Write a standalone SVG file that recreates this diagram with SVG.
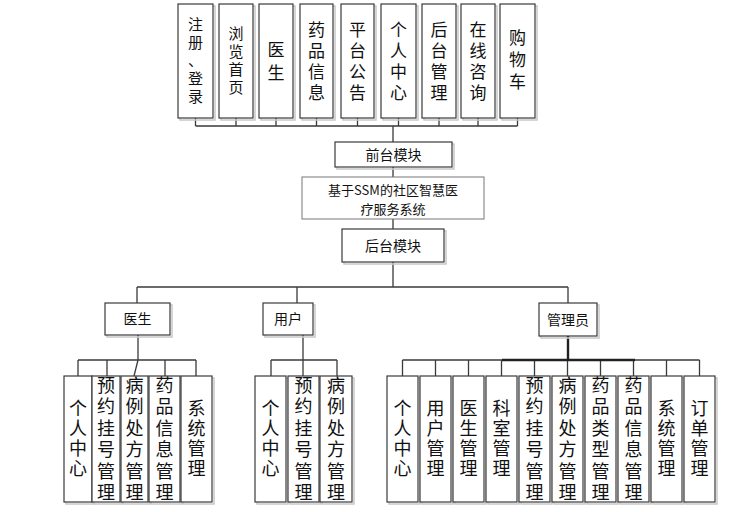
<svg xmlns="http://www.w3.org/2000/svg" width="751" height="512" viewBox="0 0 751 512">
<style>
.b{fill:#fff;stroke:#3a3a3a;stroke-width:1.2}
.s{fill:none;stroke:#c8c8c8;stroke-width:1.5}
.t{font-family:"Noto Sans CJK SC","Liberation Sans",sans-serif;fill:#111;text-anchor:middle}
.l{fill:none;stroke:#3a3a3a;stroke-width:1.3}
</style>
<rect width="751" height="512" fill="#fff"/>
<g id="connectors">
<path class="l" d="M195.5 118V126M236 118V126M276 118V126M316.5 118V126M357.5 118V126M398.5 118V126M439 118V126M478 118V126M517.5 118V126M195.5 126H517.5M393 126V142M393 167V177M393 219V229M393 262V287M137 287H568M137 287V303M297 287V303M568 287V303"/>
<path class="l" d="M138 335V360M78 360H196M78 360V376M107 360V376M138 360L134 376M165 360V376M196 360V376"/>
<path class="l" d="M303 335V360M271 360H337M271 360V376M303 360V376M337 360V376"/>
<path class="l" d="M402.5 360H699.5M402.5 360V376M435.5 360V376M468.5 360V376M501.5 360V376M534.5 360V376M567.5 360V376M600.5 360V376M633.5 360V376M666.5 360V376M699.5 360V376"/>
<path fill="none" stroke="#222" stroke-width="2.4" d="M568 336V360M502 360H635"/>
</g>
<g id="top1"><rect class="s" x="180" y="6" width="35" height="114"/><rect class="b" x="178" y="4" width="35" height="114"/><text class="t" font-size="15"><tspan x="195.5" y="30">注</tspan><tspan x="195.5" y="48">册</tspan><tspan x="195.5" y="66">、</tspan><tspan x="195.5" y="84">登</tspan><tspan x="195.5" y="102">录</tspan></text></g>
<g id="top2"><rect class="s" x="221" y="6" width="34" height="114"/><rect class="b" x="219" y="4" width="34" height="114"/><text class="t" font-size="15"><tspan x="236" y="39">浏</tspan><tspan x="236" y="57">览</tspan><tspan x="236" y="75">首</tspan><tspan x="236" y="93">页</tspan></text></g>
<g id="top3"><rect class="s" x="261" y="6" width="34" height="114"/><rect class="b" x="259" y="4" width="34" height="114"/><text class="t" font-size="17"><tspan x="276" y="56">医</tspan><tspan x="276" y="79">生</tspan></text></g>
<g id="top4"><rect class="s" x="302" y="6" width="33" height="114"/><rect class="b" x="300" y="4" width="33" height="114"/><text class="t" font-size="17"><tspan x="316.5" y="35.5">药</tspan><tspan x="316.5" y="56.5">品</tspan><tspan x="316.5" y="77.5">信</tspan><tspan x="316.5" y="98.5">息</tspan></text></g>
<g id="top5"><rect class="s" x="343" y="6" width="33" height="114"/><rect class="b" x="341" y="4" width="33" height="114"/><text class="t" font-size="17"><tspan x="357.5" y="35.5">平</tspan><tspan x="357.5" y="56.5">台</tspan><tspan x="357.5" y="77.5">公</tspan><tspan x="357.5" y="98.5">告</tspan></text></g>
<g id="top6"><rect class="s" x="383" y="6" width="35" height="114"/><rect class="b" x="381" y="4" width="35" height="114"/><text class="t" font-size="17"><tspan x="398.5" y="35.5">个</tspan><tspan x="398.5" y="56.5">人</tspan><tspan x="398.5" y="77.5">中</tspan><tspan x="398.5" y="98.5">心</tspan></text></g>
<g id="top7"><rect class="s" x="424" y="6" width="34" height="114"/><rect class="b" x="422" y="4" width="34" height="114"/><text class="t" font-size="17"><tspan x="439" y="35.5">后</tspan><tspan x="439" y="56.5">台</tspan><tspan x="439" y="77.5">管</tspan><tspan x="439" y="98.5">理</tspan></text></g>
<g id="top8"><rect class="s" x="463" y="6" width="34" height="114"/><rect class="b" x="461" y="4" width="34" height="114"/><text class="t" font-size="17"><tspan x="478" y="35.5">在</tspan><tspan x="478" y="56.5">线</tspan><tspan x="478" y="77.5">咨</tspan><tspan x="478" y="98.5">询</tspan></text></g>
<g id="top9"><rect class="s" x="502" y="6" width="35" height="114"/><rect class="b" x="500" y="4" width="35" height="114"/><text class="t" font-size="17"><tspan x="517.5" y="44">购</tspan><tspan x="517.5" y="66">物</tspan><tspan x="517.5" y="88">车</tspan></text></g>
<g id="front"><rect class="s" x="337" y="144" width="117" height="25"/><rect class="b" x="335" y="142" width="117" height="25"/><text class="t" font-size="14" x="393.5" y="160">前台模块</text></g>
<g id="system"><rect fill="#fff" stroke="#777" stroke-width="1" x="302" y="177" width="182" height="42"/><text class="t" font-size="13" fill="#333" x="393" y="195">基于SSM的社区智慧医</text><text class="t" font-size="13" fill="#333" x="393" y="214">疗服务系统</text></g>
<g id="back"><rect class="s" x="344" y="231" width="102" height="33"/><rect class="b" x="342" y="229" width="102" height="33"/><text class="t" font-size="14" x="393" y="250.5">后台模块</text></g>
<g id="doctor"><rect class="s" x="107" y="305" width="65" height="32"/><rect class="b" x="105" y="303" width="65" height="32"/><text class="t" font-size="14" x="137.5" y="324">医生</text></g>
<g id="user"><rect class="s" x="265" y="305" width="50" height="32"/><rect class="b" x="263" y="303" width="50" height="32"/><text class="t" font-size="14" x="288" y="324">用户</text></g>
<g id="admin"><rect class="s" x="541" y="305" width="58" height="33"/><rect class="b" x="539" y="303" width="58" height="33"/><text class="t" font-size="14" x="568" y="324.5">管理员</text></g>
<g id="d1"><rect class="s" x="66" y="378" width="28" height="126"/><rect class="b" x="64" y="376" width="28" height="126"/><text class="t" font-size="18"><tspan x="78" y="415">个</tspan><tspan x="78" y="435">人</tspan><tspan x="78" y="455">中</tspan><tspan x="78" y="475">心</tspan></text></g>
<g id="d2"><rect class="s" x="94" y="378" width="28" height="126"/><rect class="b" x="92" y="376" width="28" height="126"/><text class="t" font-size="18"><tspan x="106" y="391.5">预</tspan><tspan x="106" y="413">约</tspan><tspan x="106" y="434.5">挂</tspan><tspan x="106" y="456">号</tspan><tspan x="106" y="477.5">管</tspan><tspan x="106" y="499">理</tspan></text></g>
<g id="d3"><rect class="s" x="123" y="378" width="27" height="126"/><rect class="b" x="121" y="376" width="27" height="126"/><text class="t" font-size="18"><tspan x="134.5" y="391.5">病</tspan><tspan x="134.5" y="413">例</tspan><tspan x="134.5" y="434.5">处</tspan><tspan x="134.5" y="456">方</tspan><tspan x="134.5" y="477.5">管</tspan><tspan x="134.5" y="499">理</tspan></text></g>
<g id="d4"><rect class="s" x="151" y="378" width="31" height="126"/><rect class="b" x="149" y="376" width="31" height="126"/><text class="t" font-size="18"><tspan x="164.5" y="391.5">药</tspan><tspan x="164.5" y="413">品</tspan><tspan x="164.5" y="434.5">信</tspan><tspan x="164.5" y="456">息</tspan><tspan x="164.5" y="477.5">管</tspan><tspan x="164.5" y="499">理</tspan></text></g>
<g id="d5"><rect class="s" x="183" y="378" width="31" height="126"/><rect class="b" x="181" y="376" width="31" height="126"/><text class="t" font-size="18"><tspan x="196.5" y="415">系</tspan><tspan x="196.5" y="435">统</tspan><tspan x="196.5" y="455">管</tspan><tspan x="196.5" y="475">理</tspan></text></g>
<g id="u1"><rect class="s" x="257" y="378" width="31" height="126"/><rect class="b" x="255" y="376" width="31" height="126"/><text class="t" font-size="18"><tspan x="270.5" y="415">个</tspan><tspan x="270.5" y="435">人</tspan><tspan x="270.5" y="455">中</tspan><tspan x="270.5" y="475">心</tspan></text></g>
<g id="u2"><rect class="s" x="290" y="378" width="31" height="126"/><rect class="b" x="288" y="376" width="31" height="126"/><text class="t" font-size="18"><tspan x="303.5" y="391.5">预</tspan><tspan x="303.5" y="413">约</tspan><tspan x="303.5" y="434.5">挂</tspan><tspan x="303.5" y="456">号</tspan><tspan x="303.5" y="477.5">管</tspan><tspan x="303.5" y="499">理</tspan></text></g>
<g id="u3"><rect class="s" x="322" y="378" width="32" height="126"/><rect class="b" x="320" y="376" width="32" height="126"/><text class="t" font-size="18"><tspan x="336" y="391.5">病</tspan><tspan x="336" y="413">例</tspan><tspan x="336" y="434.5">处</tspan><tspan x="336" y="456">方</tspan><tspan x="336" y="477.5">管</tspan><tspan x="336" y="499">理</tspan></text></g>
<g id="a1"><rect class="s" x="389" y="378" width="31" height="126"/><rect class="b" x="387" y="376" width="31" height="126"/><text class="t" font-size="18"><tspan x="402.5" y="415">个</tspan><tspan x="402.5" y="435">人</tspan><tspan x="402.5" y="455">中</tspan><tspan x="402.5" y="475">心</tspan></text></g>
<g id="a2"><rect class="s" x="422" y="378" width="31" height="126"/><rect class="b" x="420" y="376" width="31" height="126"/><text class="t" font-size="18"><tspan x="435.5" y="415">用</tspan><tspan x="435.5" y="435">户</tspan><tspan x="435.5" y="455">管</tspan><tspan x="435.5" y="475">理</tspan></text></g>
<g id="a3"><rect class="s" x="455" y="378" width="31" height="126"/><rect class="b" x="453" y="376" width="31" height="126"/><text class="t" font-size="18"><tspan x="468.5" y="415">医</tspan><tspan x="468.5" y="435">生</tspan><tspan x="468.5" y="455">管</tspan><tspan x="468.5" y="475">理</tspan></text></g>
<g id="a4"><rect class="s" x="488" y="378" width="31" height="126"/><rect class="b" x="486" y="376" width="31" height="126"/><text class="t" font-size="18"><tspan x="501.5" y="415">科</tspan><tspan x="501.5" y="435">室</tspan><tspan x="501.5" y="455">管</tspan><tspan x="501.5" y="475">理</tspan></text></g>
<g id="a5"><rect class="s" x="521" y="378" width="31" height="126"/><rect class="b" x="519" y="376" width="31" height="126"/><text class="t" font-size="18"><tspan x="534.5" y="391.5">预</tspan><tspan x="534.5" y="413">约</tspan><tspan x="534.5" y="434.5">挂</tspan><tspan x="534.5" y="456">号</tspan><tspan x="534.5" y="477.5">管</tspan><tspan x="534.5" y="499">理</tspan></text></g>
<g id="a6"><rect class="s" x="554" y="378" width="31" height="126"/><rect class="b" x="552" y="376" width="31" height="126"/><text class="t" font-size="18"><tspan x="567.5" y="391.5">病</tspan><tspan x="567.5" y="413">例</tspan><tspan x="567.5" y="434.5">处</tspan><tspan x="567.5" y="456">方</tspan><tspan x="567.5" y="477.5">管</tspan><tspan x="567.5" y="499">理</tspan></text></g>
<g id="a7"><rect class="s" x="587" y="378" width="31" height="126"/><rect class="b" x="585" y="376" width="31" height="126"/><text class="t" font-size="18"><tspan x="600.5" y="391.5">药</tspan><tspan x="600.5" y="413">品</tspan><tspan x="600.5" y="434.5">类</tspan><tspan x="600.5" y="456">型</tspan><tspan x="600.5" y="477.5">管</tspan><tspan x="600.5" y="499">理</tspan></text></g>
<g id="a8"><rect class="s" x="620" y="378" width="31" height="126"/><rect class="b" x="618" y="376" width="31" height="126"/><text class="t" font-size="18"><tspan x="633.5" y="391.5">药</tspan><tspan x="633.5" y="413">品</tspan><tspan x="633.5" y="434.5">信</tspan><tspan x="633.5" y="456">息</tspan><tspan x="633.5" y="477.5">管</tspan><tspan x="633.5" y="499">理</tspan></text></g>
<g id="a9"><rect class="s" x="653" y="378" width="31" height="126"/><rect class="b" x="651" y="376" width="31" height="126"/><text class="t" font-size="18"><tspan x="666.5" y="415">系</tspan><tspan x="666.5" y="435">统</tspan><tspan x="666.5" y="455">管</tspan><tspan x="666.5" y="475">理</tspan></text></g>
<g id="a10"><rect class="s" x="686" y="378" width="31" height="126"/><rect class="b" x="684" y="376" width="31" height="126"/><text class="t" font-size="18"><tspan x="699.5" y="415">订</tspan><tspan x="699.5" y="435">单</tspan><tspan x="699.5" y="455">管</tspan><tspan x="699.5" y="475">理</tspan></text></g>
</svg>
